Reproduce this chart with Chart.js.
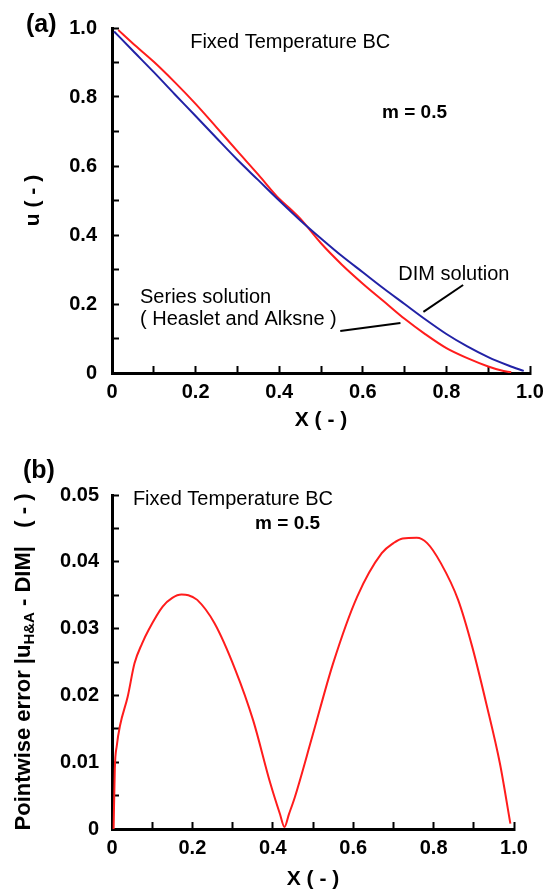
<!DOCTYPE html>
<html>
<head>
<meta charset="utf-8">
<title>Fixed Temperature BC, m = 0.5</title>
<script src="https://cdn.jsdelivr.net/npm/chart.js@4.4.1/dist/chart.umd.min.js"></script>
<style>
  html, body { margin: 0; padding: 0; background: #fff; }
  #figure { position: relative; width: 545px; height: 894px; }
  #figure canvas { position: absolute; left: 0; }
  #panel-a { top: 0; }
  #panel-b { top: 450px; }
</style>
</head>
<body>
<div id="figure">
  <canvas id="panel-a" width="545" height="450"></canvas>
  <canvas id="panel-b" width="545" height="444"></canvas>
</div>
<script>
'use strict';

// ── Data ──────────────────────────────────────────────────────
// (a) temperature profile u(X), DIM vs. series solution
const xDim    = [0.005, 0.05, 0.1, 0.15, 0.2, 0.25, 0.3, 0.35, 0.4, 0.45, 0.5,
                 0.55, 0.6, 0.65, 0.7, 0.75, 0.8, 0.85, 0.9, 0.95, 0.985];
const uDim    = [0.99, 0.934, 0.872, 0.808, 0.745, 0.681, 0.618, 0.559, 0.50, 0.443, 0.39,
                 0.339, 0.292, 0.245, 0.20, 0.155, 0.113, 0.077, 0.046, 0.021, 0.006];

const xSeries = [0.015, 0.05, 0.1, 0.15, 0.2, 0.25, 0.3, 0.35, 0.4, 0.43, 0.45,
                 0.5, 0.55, 0.6, 0.65, 0.7, 0.75, 0.8, 0.85, 0.9, 0.93, 0.955];
const uSeries = [0.994, 0.955, 0.902, 0.843, 0.78, 0.712, 0.643, 0.575, 0.505, 0.472, 0.448,
                 0.376, 0.314, 0.259, 0.208, 0.157, 0.112, 0.072, 0.043, 0.019, 0.008, 0.002];

// short pointer lines from the curve labels
const dimLeaderX    = [0.745, 0.84];
const dimLeaderU    = [0.177, 0.255];
const seriesLeaderX = [0.546, 0.69];
const seriesLeaderU = [0.122, 0.145];

// (b) pointwise error |u_H&A - DIM|
const xErr   = [0.004, 0.007, 0.012, 0.02, 0.039, 0.056, 0.075, 0.091, 0.126, 0.15, 0.173,
                0.19, 0.212, 0.255, 0.307, 0.351, 0.394, 0.418, 0.429, 0.44, 0.455, 0.498,
                0.55, 0.61, 0.671, 0.7, 0.723, 0.758, 0.784, 0.818, 0.861, 0.896, 0.931,
                0.965, 0.991];
const errVal = [0, 0.009, 0.0125, 0.0155, 0.0198, 0.0248, 0.0278, 0.0298, 0.0333, 0.0346, 0.0351,
                0.035, 0.0343, 0.0308, 0.0238, 0.0163, 0.0068, 0.0022, 0.0003, 0.0022, 0.0048, 0.0138,
                0.0248, 0.0348, 0.0413, 0.0428, 0.0435, 0.0436, 0.0428, 0.0398, 0.0343, 0.0273, 0.0188,
                0.0098, 0.0008];

// tick labels (every other tick carries a label)
const xTickLabels   = ['0', '0.2', '0.4', '0.6', '0.8', '1.0'];
const uTickLabels   = ['0', '0.2', '0.4', '0.6', '0.8', '1.0'];
const errTickLabels = ['0', '0.01', '0.02', '0.03', '0.04', '0.05'];

// ── Style ─────────────────────────────────────────────────────
const FONT  = '"Liberation Sans", Arial, Helvetica, sans-serif';
const RED   = '#ff1c1c';
const BLUE  = '#2222a6';
const BLACK = '#000';

Chart.defaults.font.family = FONT;
Chart.defaults.color = BLACK;

// ── Helpers ───────────────────────────────────────────────────
function pts(xs, ys) {
  return xs.map((x, i) => ({ x, y: ys[i] }));
}

// label only the ticks that land on a multiple of `major`
function labelEvery(labels, major) {
  return (v) => {
    const k = v / major;
    const i = Math.round(k);
    return Math.abs(k - i) < 1e-6 ? (labels[i] || '') : '';
  };
}

function axis({ position, min, max, step, labels, major, pad, title, fit }) {
  return {
    type: 'linear',
    position,
    min,
    max,
    border: { display: true, color: BLACK, width: 3 },
    grid: {
      display: true,
      drawOnChartArea: false,
      drawTicks: true,
      tickLength: -7,          // ticks point into the plot
      tickWidth: 2,
      tickColor: BLACK,
    },
    ticks: {
      stepSize: step,
      autoSkip: false,
      maxRotation: 0,
      padding: pad,
      color: BLACK,
      font: { family: FONT, size: 20, weight: 'bold' },
      callback: labelEvery(labels, major),
    },
    title: title || { display: false },
    afterFit: fit,
  };
}

function line(data, color, width) {
  return {
    data,
    borderColor: color,
    borderWidth: width,
    pointRadius: 0,
    fill: false,
    cubicInterpolationMode: 'monotone',
  };
}

// free text placed in data units, plus the panel tag in pixels
function notesPlugin(items, tag) {
  return {
    id: 'notes',
    afterDatasetsDraw(chart) {
      const { ctx, scales: { x, y } } = chart;
      ctx.save();
      ctx.fillStyle = BLACK;
      ctx.textAlign = 'left';
      ctx.textBaseline = 'middle';
      items.forEach((n) => {
        ctx.font = n.font;
        ctx.fillText(n.text, x.getPixelForValue(n.x), y.getPixelForValue(n.y));
      });
      ctx.font = `bold 25px ${FONT}`;
      ctx.fillText(tag.text, tag.left, tag.mid);
      ctx.restore();
    },
  };
}

// rotated y title with the H&A subscript
const errTitlePlugin = {
  id: 'errTitle',
  afterDraw(chart) {
    const { ctx, chartArea } = chart;
    const big = `bold 22px ${FONT}`;
    const small = `bold 15px ${FONT}`;
    const parts = [
      { t: 'Pointwise error |u', f: big, dy: 0 },
      { t: 'H&A', f: small, dy: 6 },
      { t: ' - DIM|', f: big, dy: 0 },
      { t: '   ( - )', f: big, dy: 0 },
    ];
    ctx.save();
    let total = 0;
    parts.forEach((p) => { ctx.font = p.f; p.w = ctx.measureText(p.t).width; total += p.w; });
    ctx.translate(24, (chartArea.top + chartArea.bottom) / 2);
    ctx.rotate(-Math.PI / 2);
    ctx.fillStyle = BLACK;
    ctx.textAlign = 'left';
    ctx.textBaseline = 'middle';
    let x0 = -total / 2;
    parts.forEach((p) => {
      ctx.font = p.f;
      ctx.fillText(p.t, x0, p.dy);
      x0 += p.w;
    });
    ctx.restore();
  },
};

const baseOptions = {
  responsive: false,
  animation: false,
  events: [],
  plugins: { legend: { display: false }, tooltip: { enabled: false } },
};

// ── Panel (a) ─────────────────────────────────────────────────
new Chart(document.getElementById('panel-a'), {
  type: 'line',
  data: {
    datasets: [
      line(pts(xDim, uDim), BLUE, 2),
      line(pts(xSeries, uSeries), RED, 2),
      line(pts(dimLeaderX, dimLeaderU), BLACK, 2),
      line(pts(seriesLeaderX, seriesLeaderU), BLACK, 2),
    ],
  },
  options: {
    ...baseOptions,
    layout: { padding: { left: 0, right: 15, top: 28, bottom: 0 } },
    scales: {
      x: axis({
        position: 'bottom', min: 0, max: 1, step: 0.1, labels: xTickLabels, major: 0.2, pad: 14,
        title: { display: true, text: 'X ( - )', color: BLACK,
                 font: { family: FONT, size: 21, weight: 'bold' }, padding: { top: 0, bottom: 17 } },
        fit: (s) => { s.height = 77; s.paddingLeft = 0; s.paddingRight = 0; },
      }),
      y: axis({
        position: 'left', min: 0, max: 1, step: 0.1, labels: uTickLabels, major: 0.2, pad: 22,
        title: { display: true, text: 'u ( - )', color: BLACK,
                 font: { family: FONT, size: 21, weight: 'bold' }, padding: { top: 21, bottom: 0 } },
        fit: (s) => { s.width = 112; s.paddingTop = 0; s.paddingBottom = 0; },
      }),
    },
  },
  plugins: [notesPlugin([
    { text: 'Fixed Temperature BC',   x: 0.187, y: 0.957, font: `20px ${FONT}` },
    { text: 'm = 0.5',                x: 0.646, y: 0.754, font: `bold 19px ${FONT}` },
    { text: 'DIM solution',           x: 0.685, y: 0.287, font: `20px ${FONT}` },
    { text: 'Series solution',        x: 0.067, y: 0.220, font: `20px ${FONT}` },
    { text: '( Heaslet and Alksne )', x: 0.067, y: 0.154, font: `20px ${FONT}` },
  ], { text: '(a)', left: 26, mid: 25 })],
});

// ── Panel (b) ─────────────────────────────────────────────────
new Chart(document.getElementById('panel-b'), {
  type: 'line',
  data: {
    datasets: [line(pts(xErr, errVal), RED, 2)],
  },
  options: {
    ...baseOptions,
    layout: { padding: { left: 0, right: 31, top: 45, bottom: 0 } },
    scales: {
      x: axis({
        position: 'bottom', min: 0, max: 1, step: 0.1, labels: xTickLabels, major: 0.2, pad: 14,
        title: { display: true, text: 'X ( - )', color: BLACK,
                 font: { family: FONT, size: 21, weight: 'bold' }, padding: { top: 0, bottom: 2 } },
        fit: (s) => { s.height = 65; s.paddingLeft = 0; s.paddingRight = 0; },
      }),
      y: axis({
        position: 'left', min: 0, max: 0.05, step: 0.005, labels: errTickLabels, major: 0.01, pad: 20,
        fit: (s) => { s.width = 112; s.paddingTop = 0; s.paddingBottom = 0; },
      }),
    },
  },
  plugins: [notesPlugin([
    { text: 'Fixed Temperature BC', x: 0.052, y: 0.0494, font: `20px ${FONT}` },
    { text: 'm = 0.5',              x: 0.356, y: 0.0457, font: `bold 19px ${FONT}` },
  ], { text: '(b)', left: 23, mid: 21 }), errTitlePlugin],
});
</script>
</body>
</html>
